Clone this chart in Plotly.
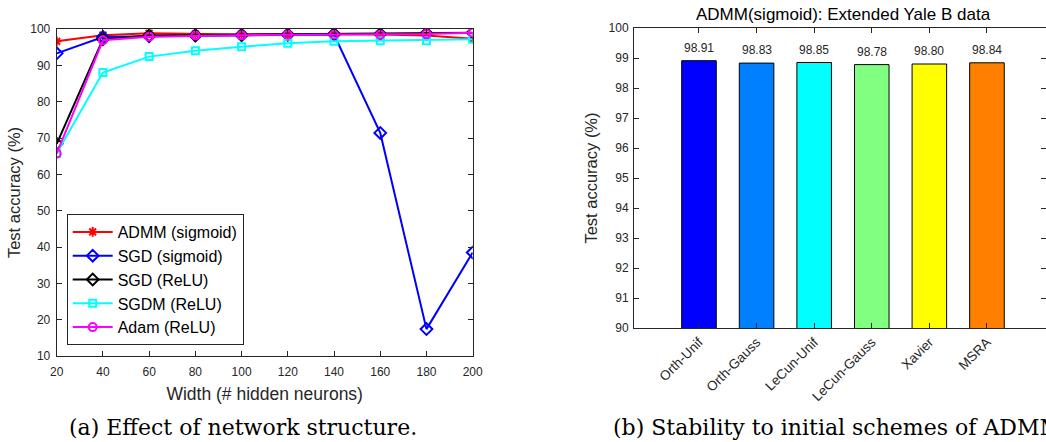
import plotly.graph_objects as go

widths = [20, 40, 60, 80, 100, 120, 140, 160, 180, 200]
admm_sigmoid = [96.6, 98.3, 98.8, 98.6, 98.5, 98.6, 98.6, 98.5, 98.2, 97.3]
sgd_sigmoid = [93.3, 97.8, 98.0, 98.2, 98.3, 98.4, 98.5, 71.4, 17.4, 38.5]
sgd_relu = [68.4, 97.2, 98.2, 98.3, 98.4, 98.5, 98.6, 98.6, 98.8, 99.0]
sgdm_relu = [65.8, 88.0, 92.4, 94.0, 95.1, 96.1, 96.6, 96.8, 96.8, 97.2]
adam_relu = [65.7, 96.9, 97.9, 98.2, 98.3, 98.4, 98.4, 98.4, 98.6, 99.0]

schemes = ["Orth-Unif", "Orth-Gauss", "LeCun-Unif", "LeCun-Gauss", "Xavier", "MSRA"]
scheme_acc = [98.91, 98.83, 98.85, 98.78, 98.80, 98.84]
scheme_colors = ["#0000FF", "#0080FF", "#00FFFF", "#80FF80", "#FFFF00", "#FF8000"]

W, H = 1046, 442
FONT = "Liberation Sans, Arial, sans-serif"
SERIF = "DejaVu Serif, Liberation Serif, serif"
AX = "#262626"

fig = go.Figure()

series = [
    ("ADMM (sigmoid)", admm_sigmoid, "#FF0000", "asterisk-open", 8),
    ("SGD (sigmoid)", sgd_sigmoid, "#0000FF", "diamond-open", 9),
    ("SGD (ReLU)", sgd_relu, "#000000", "diamond-open", 9),
    ("SGDM (ReLU)", sgdm_relu, "#00FFFF", "square-open", 7),
    ("Adam (ReLU)", adam_relu, "#FF00FF", "circle-open", 8),
]
for name, ys, col, sym, sz in series:
    fig.add_trace(go.Scatter(
        x=widths, y=ys, name=name, mode="lines+markers",
        line=dict(color=col, width=2),
        marker=dict(symbol=sym, size=sz, color=col, line=dict(color=col, width=2)),
        xaxis="x", yaxis="y"))

idx = list(range(1, len(schemes) + 1))
fig.add_trace(go.Bar(
    x=idx, y=scheme_acc, marker=dict(color=scheme_colors, line=dict(color="#000000", width=1)),
    width=0.6, showlegend=False, xaxis="x2", yaxis="y2"))

for i, v in zip(idx, scheme_acc):
    fig.add_annotation(x=i, y=v, xref="x2", yref="y2", text=f"{v:.2f}", showarrow=False,
                       xanchor="center", yanchor="middle",
                       yshift=13, font=dict(family=FONT, size=12, color=AX))

axis_common = dict(showgrid=False, zeroline=False, showline=True, linecolor=AX, linewidth=1,
                   mirror="ticks", ticks="inside", ticklen=5, tickcolor=AX, automargin=False,
                   tickfont=dict(family=FONT, size=12, color=AX))

fig.update_layout(
    width=W, height=H, margin=dict(l=0, r=0, t=0, b=0, autoexpand=False),
    paper_bgcolor="white", plot_bgcolor="white",
    xaxis=dict(domain=[56.7 / W, 472.7 / W], range=[20, 200], tickvals=widths, anchor="y",
               ticklabelstandoff=5,
               title=dict(text="Width (# hidden neurons)", font=dict(family=FONT, size=17.5, color=AX), standoff=9),
               **axis_common),
    yaxis=dict(domain=[1 - 356 / H, 1 - 29 / H], range=[10, 100], tickvals=list(range(10, 101, 10)), anchor="x",
               ticklabelstandoff=3,
               title=dict(text="Test accuracy (%)", font=dict(family=FONT, size=16.5, color=AX), standoff=5),
               **axis_common),
    xaxis2=dict(domain=[634 / W, 1.0], range=[-0.128, 7.025], tickvals=idx, ticktext=schemes, tickangle=-45,
                anchor="y2", **{**axis_common, "tickfont": dict(family=FONT, size=13.5, color=AX)}),
    yaxis2=dict(domain=[1 - 328 / H, 1 - 28 / H], range=[90, 100], tickvals=list(range(90, 101)), anchor="x2",
                ticklabelstandoff=2,
                title=dict(text="Test accuracy (%)", font=dict(family=FONT, size=16.5, color=AX), standoff=6),
                **axis_common),
    legend=dict(x=66.7 / W, y=1 - 345 / H, xanchor="left", yanchor="bottom",
                bgcolor="white", bordercolor=AX, borderwidth=1,
                font=dict(family=FONT, size=16, color="#000000"), itemwidth=40),
    showlegend=True,
)

fig.add_annotation(x=843 / W, y=1 - 14 / H, xref="paper", yref="paper", xanchor="center", yanchor="middle",
                   text="ADMM(sigmoid): Extended Yale B data",
                   showarrow=False, font=dict(family=FONT, size=17, color="#000000"))
fig.add_annotation(x=243 / W, y=1 - 427 / H, xref="paper", yref="paper", xanchor="center", yanchor="middle",
                   text="(a) Effect of network structure.",
                   showarrow=False, font=dict(family=SERIF, size=22, color="#000000"))
fig.add_annotation(x=611 / W, y=1 - 427 / H, xref="paper", yref="paper", xanchor="left", yanchor="middle",
                   text="(b) Stability to initial schemes of ADMM",
                   showarrow=False, font=dict(family=SERIF, size=22, color="#000000"))

fig.write_html("out.html")
